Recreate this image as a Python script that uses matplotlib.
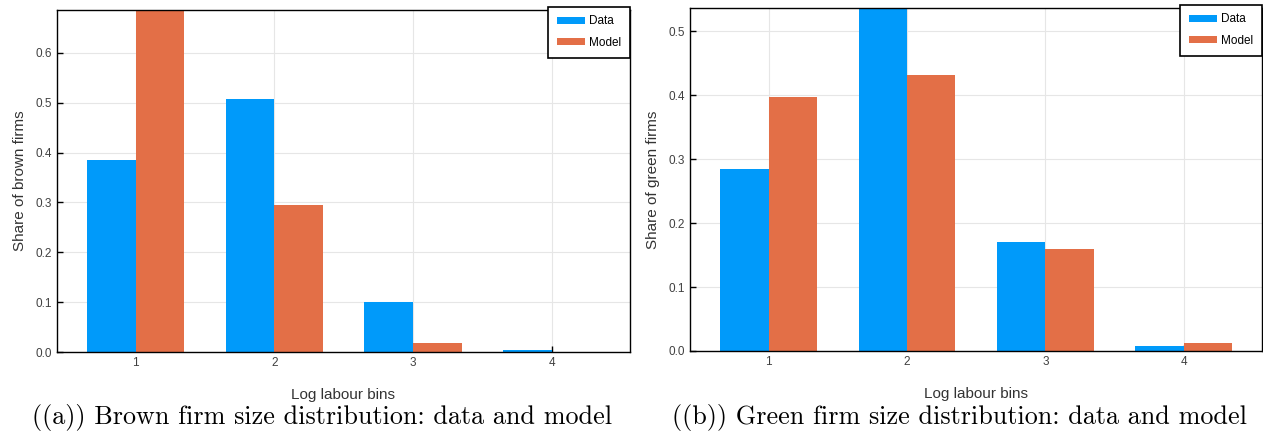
import numpy as np
import matplotlib
matplotlib.use('Agg')
import matplotlib.pyplot as plt

bins = [1, 2, 3, 4]
brown_data = [0.386, 0.508, 0.101, 0.005]
brown_model = [0.686, 0.294, 0.019, 0.0]
green_data = [0.285, 0.536, 0.171, 0.008]
green_model = [0.397, 0.431, 0.159, 0.0125]
ylabels = ['Share of brown firms', 'Share of green firms']
captions = ['((a)) Brown firm size distribution: data and model',
            '((b)) Green firm size distribution: data and model']

c_data = '#009AFA'
c_model = '#E36F47'
w = 0.35

plt.rcParams['font.family'] = ['Liberation Sans', 'DejaVu Sans']

fig = plt.figure(figsize=(12.63, 4.42), dpi=100)
ax1 = fig.add_axes([0.0451, 0.2036, 0.4537, 0.7738])
ax2 = fig.add_axes([0.5463, 0.2059, 0.4529, 0.7760])

panels = [(ax1, brown_data, brown_model, ylabels[0], 0.6),
          (ax2, green_data, green_model, ylabels[1], 0.5)]

for ax, d, m, yl, ymax_tick in panels:
    x = np.array(bins)
    ax.bar(x - w/2, d, w, color=c_data, label='Data', zorder=2)
    ax.bar(x + w/2, m, w, color=c_model, label='Model', zorder=2)
    ax.set_xlim(0.432, 4.565)
    ax.set_ylim(0, max(max(d), max(m)))
    ax.set_xticks(bins)
    ax.set_yticks(np.arange(0, ymax_tick + 0.01, 0.1))
    ax.set_yticklabels(['%.1f' % v for v in np.arange(0, ymax_tick + 0.01, 0.1)])
    ax.grid(True, color='#e6e6e6', lw=0.8, zorder=0)
    ax.set_axisbelow(True)
    ax.tick_params(direction='in', length=4, width=1, labelsize=8.5,
                   labelcolor='#404040', color='black')
    for s in ax.spines.values():
        s.set_color('black')
        s.set_linewidth(1)
    ax.set_xlabel('Log labour bins', fontsize=11, color='#333333', labelpad=14)
    ax.set_ylabel(yl, fontsize=11, color='#333333', labelpad=6)
    leg = ax.legend(loc='upper right', bbox_to_anchor=(1.0, 1.01),
                    borderaxespad=0, fancybox=False, framealpha=1,
                    edgecolor='black', fontsize=8.5, handlelength=2.4,
                    handleheight=0.5, handletextpad=0.35, borderpad=0.75,
                    labelspacing=0.8)
    leg.get_frame().set_linewidth(1.2)
    leg.set_zorder(5)

fig.text(0.255, 0.055, captions[0], ha='center', va='center',
         fontsize=18.8, family='cmr10')
fig.text(0.76, 0.055, captions[1], ha='center', va='center',
         fontsize=18.8, family='cmr10')

fig.savefig('out.png', dpi=100)
